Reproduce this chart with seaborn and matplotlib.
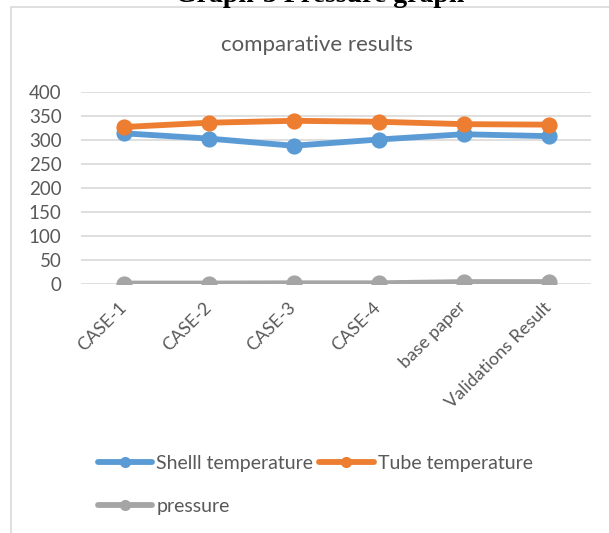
import matplotlib
matplotlib.use("Agg")
import matplotlib.pyplot as plt
from matplotlib.patches import Rectangle
from matplotlib.lines import Line2D
import pandas as pd
import seaborn as sns

# Category labels and series values
cases = ["CASE-1", "CASE-2", "CASE-3", "CASE-4", "base paper", "Validations Result"]
shell_temperature = [314, 303, 288, 301, 312, 308]
tube_temperature = [327, 336, 340, 338, 333, 332]
pressure = [1, 1, 1.5, 1.5, 4, 4]

series_names = ["Shelll temperature", "Tube temperature", "pressure"]
series_colors = ["#5B9BD5", "#ED7D31", "#A5A5A5"]
y_ticks = [0, 50, 100, 150, 200, 250, 300, 350, 400]

df = pd.DataFrame({
    "case": cases * 3,
    "value": shell_temperature + tube_temperature + pressure,
    "series": [series_names[0]] * 6 + [series_names[1]] * 6 + [series_names[2]] * 6,
})

sns.set_theme(style="white")
plt.rcParams["font.family"] = ["Lato", "DejaVu Sans"]

W, H = 609, 533
fig = plt.figure(figsize=(W / 100, H / 100), dpi=100)
ax = fig.add_axes([81 / W, 1 - 284 / H, 510 / W, 192 / H])

text_color = "#595959"
grid_color = "#D9D9D9"

sns.pointplot(
    data=df, x="case", y="value", hue="series", order=cases,
    hue_order=series_names, palette=series_colors, errorbar=None,
    markers="o", markersize=8.5, linewidth=4.2, ax=ax, legend=False,
)

ax.set_ylim(0, 400)
ax.set_xlim(-0.5, len(cases) - 0.5)
ax.set_yticks(y_ticks)
ax.set_yticklabels([str(t) for t in y_ticks])
ax.yaxis.grid(True, color=grid_color, linewidth=1.2)
ax.set_axisbelow(True)
for s in ax.spines.values():
    s.set_visible(False)
ax.set_xlabel("")
ax.set_ylabel("")
ax.tick_params(axis="y", length=0, pad=14, labelsize=13.5, labelcolor=text_color)
ax.tick_params(axis="x", length=0, pad=15, labelsize=13, labelcolor=text_color)
for lbl in ax.get_xticklabels():
    lbl.set_rotation(45)
    lbl.set_ha("right")
    lbl.set_va("center")
    lbl.set_rotation_mode("anchor")

# Legend below the plot area: two entries on the first row, one on the second
handles = {
    name: Line2D([], [], color=c, linewidth=4.2, marker="o", markersize=7)
    for name, c in zip(series_names, series_colors)
}
legend_order = ["Shelll temperature", "pressure", "Tube temperature"]
fig.legend(
    [handles[n] for n in legend_order], legend_order,
    loc="upper left", bbox_to_anchor=(98 / W, 1 - 455 / H),
    ncol=2, frameon=False, fontsize=14, labelcolor=text_color,
    handlelength=2.8, handletextpad=0.2, columnspacing=0.3,
    labelspacing=1.35, borderpad=0, borderaxespad=0,
)

# Chart title
fig.text(317 / W, 1 - 45 / H, "comparative results", ha="center", va="center",
         fontsize=16, color=text_color)

# Page heading above the chart frame
fig.text(320 / W, 1 - 2 / H, "Graph-3 Pressure graph", ha="center", va="baseline",
         fontsize=20, fontweight="bold", family=["Liberation Serif"], color="black")

# Chart frame
fig.add_artist(Rectangle((11 / W, -0.1), 1.0, 1 - 7 / H + 0.1, transform=fig.transFigure,
                         fill=False, edgecolor=grid_color, linewidth=1.2))

fig.savefig("out.png", dpi=100)
